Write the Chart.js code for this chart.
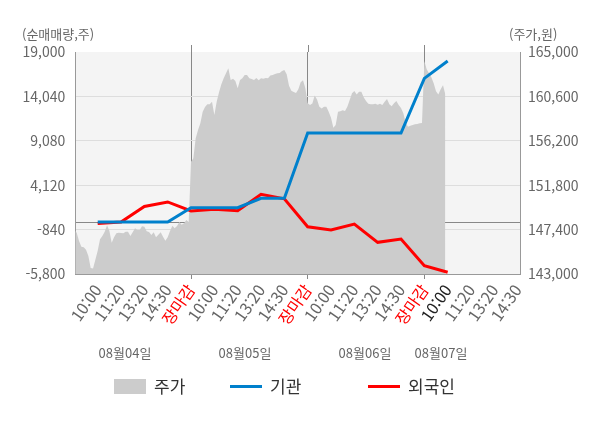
<!DOCTYPE html>
<html lang="ko">
<head>
  <meta charset="UTF-8">
  <title>순매매량 / 주가</title>
  <script src="https://cdn.jsdelivr.net/npm/chart.js"></script>
  <style>
    body {
      margin: 0;
      background: #fff;
      font-family: "Noto Sans CJK KR", "Noto Sans", sans-serif;
    }
    #wrap {
      position: relative;
      width: 600px;
      height: 428px;
    }
    .txt {
      position: absolute;
      color: #666;
      font-size: 13px;
      line-height: 16px;
      white-space: nowrap;
    }
    .date {
      width: 80px;
      text-align: center;
    }
    .leg {
      position: absolute;
      top: 376px;
      display: flex;
      align-items: center;
      font-size: 17px;
      line-height: 20px;
      color: #333;
    }
    .leg i {
      display: inline-block;
      width: 32px;
      margin-right: 8px;
    }
  </style>
</head>
<body>
<div id="wrap">
  <canvas id="chart" width="600" height="428"></canvas>

  <div class="txt" style="left:22px; top:26px;">(순매매량,주)</div>
  <div class="txt" style="left:509px; top:26px;">(주가,원)</div>

  <div class="txt date" style="left:85px; top:345px;" id="d0"></div>
  <div class="txt date" style="left:205px; top:345px;" id="d1"></div>
  <div class="txt date" style="left:325px; top:345px;" id="d2"></div>
  <div class="txt date" style="left:401px; top:345px;" id="d3"></div>

  <div class="leg" style="left:114px;"><i style="height:15px; background:#cccccc;"></i>주가</div>
  <div class="leg" style="left:230px;"><i style="height:3px; background:#0080cc;"></i>기관</div>
  <div class="leg" style="left:368px;"><i style="height:3px; background:#ff0000;"></i>외국인</div>
</div>

<script>
  // 날짜 / 시간 라벨
  const dates = ['08월04일', '08월05일', '08월06일', '08월07일'];
  const sessionLabels = ['10:00', '11:20', '13:20', '14:30', '장마감'];
  const STEP = 10;          // 라벨 하나당 샘플 수
  const LAST_TICK = 190;    // 08월07일 14:30

  // 축 눈금
  const leftTicks = [-5800, -840, 4120, 9080, 14040, 19000];
  const rightTicks = [143000, 147400, 151800, 156200, 160600, 165000];

  // 주가 (일자별)
  const priceDay04 = [
    147360, 147100, 146270, 145700, 145640, 145410, 144780, 143600, 143550, 144400,
    145310, 146440, 146770, 147190, 147830, 147290, 146100, 146640, 147030, 147100,
    147060, 147030, 147190, 147190, 146770, 147130, 147530, 147360, 147360, 147730,
    147690, 147230, 147160, 146860, 147130, 146640, 146900, 147130, 146700, 146300,
    146640, 147260, 147790, 147530, 147760, 148150, 147890, 148020, 148350, 148150
  ];
  const priceDay05 = [
    154130, 154460, 156450, 157270, 157930, 159090, 159550, 159810, 159810, 160080,
    158760, 160080, 161000, 161800, 162390, 162900, 163400, 162230, 162360, 162130,
    161400, 162230, 162390, 162720, 162720, 162390, 162330, 162230, 162430, 162190,
    162390, 162360, 162430, 162390, 162660, 162720, 162820, 162890, 162920, 163120,
    163220, 162790, 161660, 161170, 161040, 160940, 161300, 162000, 162190, 161400
  ];
  const priceDay06 = [
    159910, 159750, 159900, 160700, 160300, 159580, 159390, 159580, 159580, 159090,
    158490, 157500, 157770, 159090, 159120, 159220, 159150, 159580, 160240, 160900,
    161130, 160800, 161070, 161070, 160510, 160150, 159880, 159810, 159810, 159880,
    159780, 159880, 159750, 160080, 160340, 159810, 159620, 159910, 160150, 159750,
    159450, 158920, 157990, 157600, 157700, 157770, 157830, 157870, 157930, 157970
  ];
  const priceDay07 = [164100, 163300, 162900, 162500, 161900, 161100, 160800, 161300, 161700, 160800];

  // 순매매량 (라벨 시점별: 08/04 10:00 ~ 08/07 10:00)
  const institution = [0, 0, 0, 0, 1600, 1600, 1600, 2650, 2650, 9950, 9950, 9950, 9950, 9950, 16050, 18000];
  const foreign = [-150, 0, 1750, 2250, 1250, 1430, 1270, 3100, 2600, -520, -890, -220, -2260, -1890, -4870, -5610];

  document.getElementById('d0').textContent = dates[0];
  document.getElementById('d1').textContent = dates[1];
  document.getElementById('d2').textContent = dates[2];
  document.getElementById('d3').textContent = dates[3];

  const prices = [...priceDay04, ...priceDay05, ...priceDay06, ...priceDay07];
  const priceData = prices.map((v, i) => ({ x: i, y: v }));
  const instData = institution.map((v, k) => ({ x: (k + 1) * STEP, y: v }));
  const foreignData = foreign.map((v, k) => ({ x: (k + 1) * STEP, y: v }));

  function labelAt(value) {
    const k = Math.round(value / STEP);
    if (k < 1) return '';
    return sessionLabels[(k - 1) % sessionLabels.length];
  }

  // 플롯 배경 + 일자 구분선 윗부분
  const plotBg = {
    id: 'plotBg',
    beforeDraw(chart) {
      const a = chart.chartArea;
      const c = chart.ctx;
      c.save();
      c.fillStyle = '#f4f4f4';
      c.fillRect(a.left, a.top, a.right - a.left, a.bottom - a.top);
      c.restore();
    },
    afterDraw(chart) {
      const a = chart.chartArea;
      const c = chart.ctx;
      const xs = chart.scales.x;
      c.save();
      c.strokeStyle = '#888';
      c.lineWidth = 1;
      c.beginPath();
      xs.ticks.forEach(t => {
        if (t.value % 50 !== 0) return;
        const px = Math.round(xs.getPixelForValue(t.value)) + 0.5;
        c.moveTo(px, a.top - 7);
        c.lineTo(px, a.top);
      });
      c.stroke();
      c.restore();
    }
  };

  Chart.defaults.font.family = '"Noto Sans CJK KR", "Noto Sans", sans-serif';
  Chart.defaults.font.size = 14;

  new Chart(document.getElementById('chart'), {
    type: 'line',
    data: {
      datasets: [
        {
          label: '기관',
          data: instData,
          yAxisID: 'y',
          borderColor: '#0080cc',
          borderWidth: 3,
          pointRadius: 0,
          tension: 0,
          order: 0
        },
        {
          label: '외국인',
          data: foreignData,
          yAxisID: 'y',
          borderColor: '#ff0000',
          borderWidth: 3,
          pointRadius: 0,
          tension: 0,
          order: 1
        },
        {
          label: '주가',
          data: priceData,
          yAxisID: 'y1',
          borderWidth: 0,
          borderColor: 'rgba(0,0,0,0)',
          backgroundColor: '#cccccc',
          fill: 'start',
          pointRadius: 0,
          tension: 0,
          order: 2
        }
      ]
    },
    options: {
      responsive: false,
      animation: false,
      devicePixelRatio: 1,
      layout: { padding: { top: 52, left: 0, right: 0, bottom: 0 } },
      plugins: {
        legend: { display: false },
        tooltip: { enabled: false }
      },
      scales: {
        x: {
          type: 'linear',
          min: 0.4,
          max: 191,
          afterBuildTicks(axis) {
            const t = [];
            for (let v = STEP; v <= LAST_TICK; v += STEP) t.push({ value: v });
            axis.ticks = t;
          },
          afterFit(axis) { axis.height = 154; },
          border: { color: '#999', width: 1 },
          grid: {
            color: ctx => (ctx.tick && ctx.tick.value % 50 === 0) ? '#888' : 'rgba(0,0,0,0)',
            tickLength: 5,
            lineWidth: 1
          },
          ticks: {
            autoSkip: false,
            minRotation: 55,
            maxRotation: 55,
            padding: 2,
            font: { size: 16 },
            color: ctx => {
              const lab = labelAt(ctx.tick.value);
              if (lab === '장마감') return '#ff0000';
              if (ctx.tick.value === 160) return '#222';
              return '#666';
            },
            callback: value => labelAt(value)
          }
        },
        y: {
          position: 'left',
          min: leftTicks[0],
          max: leftTicks[leftTicks.length - 1],
          afterBuildTicks(axis) {
            axis.ticks = [...leftTicks, 0].sort((a, b) => a - b).map(v => ({ value: v }));
          },
          afterFit(axis) { axis.width = 75.3; },
          border: { color: '#999', width: 1 },
          grid: {
            drawTicks: false,
            color: ctx => {
              const v = ctx.tick ? ctx.tick.value : null;
              if (v === 0) return '#888';
              if (v === leftTicks[leftTicks.length - 1]) return 'rgba(0,0,0,0)';
              return '#dddddd';
            }
          },
          ticks: {
            autoSkip: false,
            padding: 10,
            color: '#666',
            font: { size: 14 },
            callback: v => v === 0 ? '' : v.toLocaleString('en-US')
          }
        },
        y1: {
          position: 'right',
          min: rightTicks[0],
          max: rightTicks[rightTicks.length - 1],
          afterBuildTicks(axis) {
            axis.ticks = rightTicks.map(v => ({ value: v }));
          },
          afterFit(axis) { axis.width = 80; },
          border: { color: '#999', width: 1 },
          grid: { drawOnChartArea: false, drawTicks: false },
          ticks: {
            autoSkip: false,
            padding: 8,
            color: '#666',
            font: { size: 14 },
            callback: v => v.toLocaleString('en-US')
          }
        }
      }
    },
    plugins: [plotBg]
  });
</script>
</body>
</html>
